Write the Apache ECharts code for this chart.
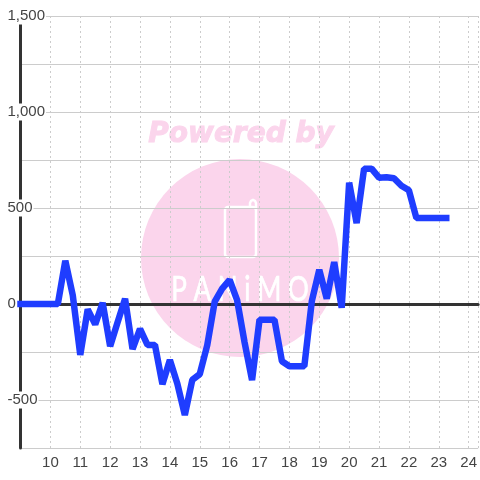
<!DOCTYPE html>
<html>
<head>
<meta charset="utf-8">
<style>html,body{margin:0;padding:0;background:#fff}#main{width:480px;height:480px}</style>
<script src="https://cdn.jsdelivr.net/npm/echarts@6/dist/echarts.min.js"></script>
</head>
<body>
<div id="main"></div>
<script>
// 时间（小时），每15分钟一个点
const hours = [9, 9.25, 9.5, 9.75, 10, 10.25, 10.5, 10.75, 11, 11.25, 11.5, 11.75,
  12, 12.25, 12.5, 12.75, 13, 13.25, 13.5, 13.75, 14, 14.25, 14.5, 14.75,
  15, 15.25, 15.5, 15.75, 16, 16.25, 16.5, 16.75, 17, 17.25, 17.5, 17.75,
  18, 18.25, 18.5, 18.75, 19, 19.25, 19.5, 19.75, 20, 20.25, 20.5, 20.75,
  21, 21.25, 21.5, 21.75, 22, 22.25, 22.5, 22.75, 23, 23.25];
const values = [0, 0, 0, 0, 0, 0, 225, 45, -265, -28, -106, 6,
  -220, -95, 27, -235, -130, -213, -213, -418, -292, -415, -578, -395,
  -365, -215, 12, 80, 126, 20, -200, -396, -82, -82, -82, -298,
  -324, -324, -324, 14, 178, 28, 218, -20, 632, 421, 705, 705,
  658, 660, 655, 616, 592, 448, 448, 448, 448, 448];
const yTicks = [1500, 1000, 500, 0, -500];

const chart = echarts.init(document.getElementById('main'));
const font = '"Liberation Sans", Arial, sans-serif';
const logoPink = '#fbd5ec';

chart.setOption({
  animation: false,
  backgroundColor: '#fff',
  grid: { left: 20.5, right: 0, top: 16, bottom: 32 },
  // 水印
  graphic: [
    { type: 'circle', z: -10, shape: { cx: 240, cy: 258, r: 99 }, style: { fill: logoPink } },
    { type: 'text', z: -10, x: 241, y: 135, style: { text: 'Powered by', fill: logoPink, stroke: logoPink, lineWidth: 1, font: 'italic bold 28px "DejaVu Sans"', align: 'center', verticalAlign: 'middle' } },
    { type: 'rect', z: -9, shape: { x: 225, y: 207, width: 31, height: 50, r: 3 }, style: { fill: 'none', stroke: '#fff', lineWidth: 2.5 } },
    { type: 'polyline', z: -9, shape: { points: [[250, 207], [250, 203], [251, 201], [253, 200], [255, 201], [256, 203], [256, 210]] }, style: { fill: 'none', stroke: '#fff', lineWidth: 2.5 } },
    { type: 'text', z: -9, x: 240, y: 290, scaleY: 1.35, style: { text: 'P A N i M O', fill: '#fff', stroke: '#fff', lineWidth: 0.5, font: '26px Lato', align: 'center', verticalAlign: 'middle' } }
  ],
  xAxis: [
    {
      type: 'value', min: 9, max: 24.317, interval: 1,
      axisLine: { onZero: false, show: false },
      axisTick: { show: false },
      axisLabel: {
        color: '#444', fontSize: 15, fontFamily: font, margin: 7,
        showMinLabel: false, showMaxLabel: false,
        formatter: v => String(v)
      },
      splitLine: { show: true, lineStyle: { color: '#ccc', type: [2, 3], width: 1 } }
    },
    {
      // 0值粗线
      type: 'value', min: 9, max: 24.317, interval: 1, position: 'bottom',
      axisLine: { show: true, onZero: true, lineStyle: { color: '#333', width: 3 } },
      axisTick: { show: false }, axisLabel: { show: false }, splitLine: { show: false }
    }
  ],
  yAxis: {
    type: 'value', min: -750, max: 1500, interval: 250,
    axisLine: { show: true, onZero: false, lineStyle: { color: '#333', width: 3 } },
    axisTick: { show: false },
    axisLabel: {
      color: '#444', fontSize: 15, fontFamily: font, align: 'left', margin: 14,
      backgroundColor: '#fff', lineHeight: 12, padding: [5, 1, 0, 1],
      formatter: v => yTicks.includes(v) ? echarts.format.addCommas(v) : ''
    },
    splitLine: { show: true, lineStyle: { color: '#ccc', width: 1 } }
  },
  series: [{
    type: 'line',
    data: hours.map((h, i) => [h, values[i]]),
    showSymbol: false,
    clip: false,
    lineStyle: { color: '#1f3dff', width: 6.5, cap: 'square', join: 'bevel' }
  }]
});
</script>
</body>
</html>
